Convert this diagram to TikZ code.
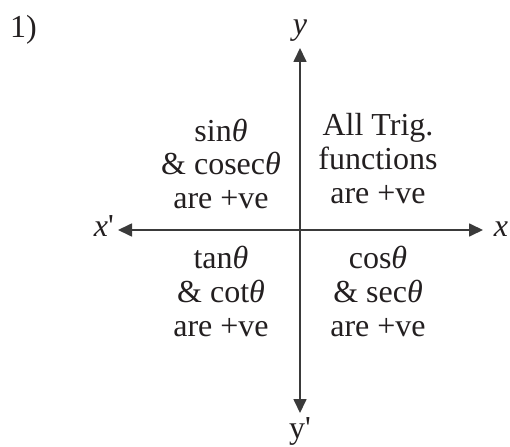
\documentclass[tikz,border=0pt]{standalone}
\usepackage{fontspec}
\setmainfont{Liberation Serif}
\usetikzlibrary{arrows.meta}
\definecolor{ink}{HTML}{231F20}
\definecolor{axisgray}{HTML}{3A3A3A}
\begin{document}
\begin{tikzpicture}[x=1bp,y=-1bp,
  lbl/.style={inner sep=0pt, anchor=base, text=ink, font=\fontsize{32bp}{33bp}\selectfont},
  axisline/.style={draw=axisgray, line width=1.7bp,
    {Triangle[length=14bp,width=13bp]}-{Triangle[length=14bp,width=13bp]}}]
\useasboundingbox (0,0) rectangle (510,447);
\coordinate (top) at (300,48);
\coordinate (bot) at (300,413);
\coordinate (lft) at (118,230);
\coordinate (rgt) at (483,230);
\draw[axisline] (lft) -- (rgt);
\draw[axisline] (bot) -- (top);
% axis labels
\node[lbl] (ylab) at (300,35) {\textit{y}};
\node[lbl] (yplab) at (300,438) {y\textquotesingle};
\node[lbl, anchor=base east] (xplab) at (114,237) {\textit{x}\textquotesingle};
\node[lbl] (xlab) at (501,237) {\textit{x}};
\node[lbl, anchor=base west] (num) at (10,38) {1)};
% quadrant II
\node[lbl] (q2a) at (221,142) {sin\textit{θ}};
\node[lbl] (q2b) at (221,175) {\& cosec\textit{θ}};
\node[lbl] (q2c) at (221,209) {are +ve};
% quadrant I
\node[lbl] (q1a) at (378,136) {All Trig.};
\node[lbl] (q1b) at (378,170) {functions};
\node[lbl] (q1c) at (378,204) {are +ve};
% quadrant III
\node[lbl] (q3a) at (221,268) {tan\textit{θ}};
\node[lbl] (q3b) at (221,302) {\& cot\textit{θ}};
\node[lbl] (q3c) at (221,336) {are +ve};
% quadrant IV
\node[lbl] (q4a) at (378,268) {cos\textit{θ}};
\node[lbl] (q4b) at (378,302) {\& sec\textit{θ}};
\node[lbl] (q4c) at (378,336) {are +ve};
\end{tikzpicture}
\end{document}
